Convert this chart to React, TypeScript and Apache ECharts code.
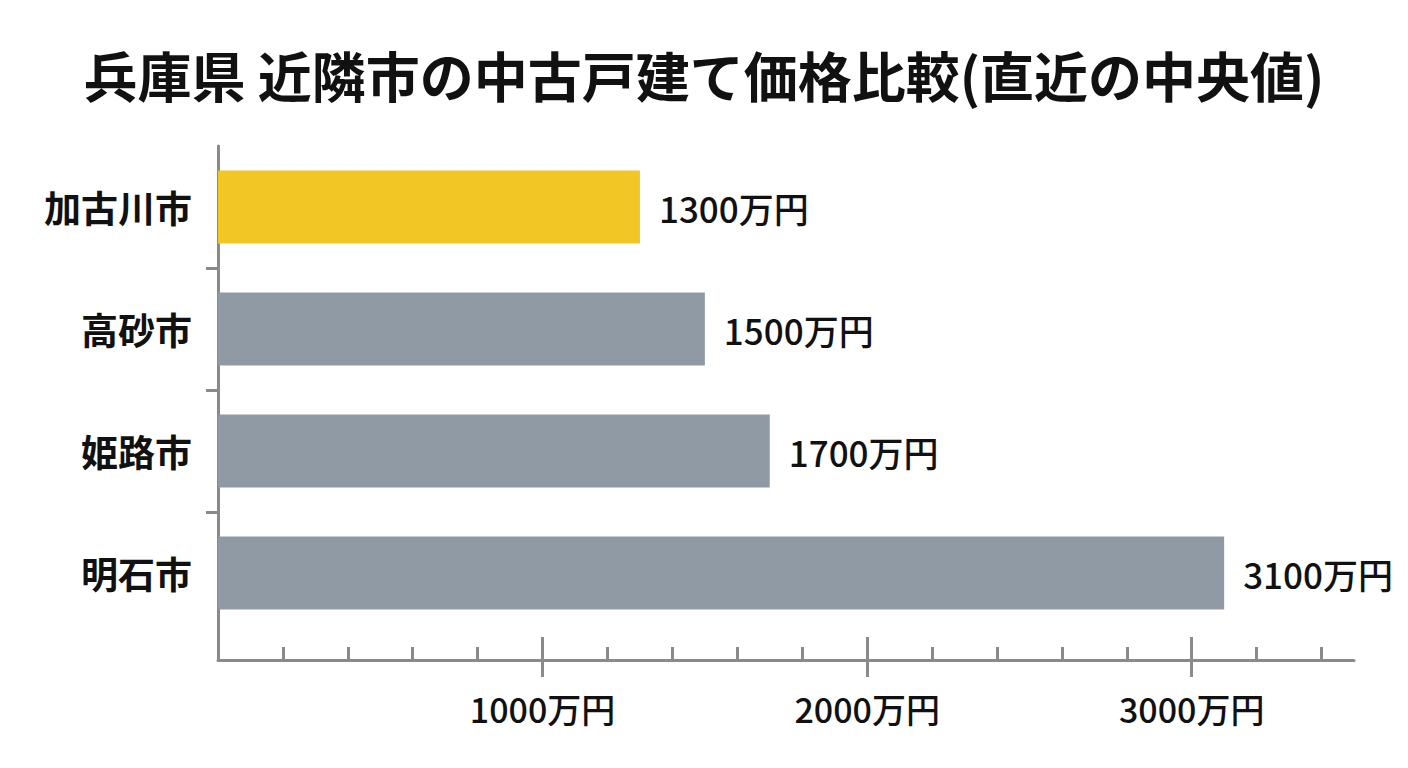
import React, { useEffect, useRef } from 'react';
import * as echarts from 'echarts';

// データ
const title = '兵庫県 近隣市の中古戸建て価格比較(直近の中央値)';
const cities = ['加古川市', '高砂市', '姫路市', '明石市'];
const prices = [1300, 1500, 1700, 3100]; // 万円
const highlightCity = '加古川市';
const majorTicks = [1000, 2000, 3000];
const minorTicks = [200, 400, 600, 800, 1000, 1200, 1400, 1600, 1800, 2000, 2200, 2400, 2600, 2800, 3000, 3200, 3400];
const unit = '万円';

const FONT = '"Noto Sans CJK JP", "Noto Sans", sans-serif';
const AXIS_COLOR = '#8a8a8a';
const YELLOW = '#F2C624';
const GREY = '#8F9AA4';

const App: React.FC = () => {
  const chartRef = useRef<HTMLDivElement | null>(null);

  useEffect(() => {
    if (!chartRef.current) return;
    const chart = echarts.init(chartRef.current, null, { renderer: 'svg' });

    const xMax = 3500;
    // 下の軸は棒の領域より少し下にある
    const barGridHeight = 488;
    const axisGridHeight = 514;
    const yMax = (cities.length * axisGridHeight) / barGridHeight;
    const bandEdges = cities.slice(1).map((_, i) => i + 1);

    const axisLine = { show: true, onZero: false, lineStyle: { color: AXIS_COLOR, width: 3 } };
    const noLine = { show: false, onZero: false };

    const option = {
      animation: false,
      backgroundColor: '#ffffff',
      textStyle: { fontFamily: FONT },
      title: {
        text: title,
        left: 'center',
        top: 42,
        textStyle: { fontFamily: FONT, fontSize: 54, fontWeight: 'bold', color: '#111' },
      },
      grid: [
        { left: 218, right: 54, top: 146, height: barGridHeight },
        { left: 218, right: 54, top: 146, height: axisGridHeight },
      ],
      xAxis: [
        { gridIndex: 0, type: 'value', min: 0, max: xMax, show: false },
        {
          gridIndex: 1,
          type: 'value',
          position: 'bottom',
          min: 0,
          max: xMax,
          axisLine,
          axisTick: { show: true, inside: true, length: 13, customValues: minorTicks, lineStyle: { color: AXIS_COLOR, width: 3 } },
          axisLabel: { show: false },
          splitLine: { show: false },
        },
        {
          gridIndex: 1,
          type: 'value',
          position: 'bottom',
          min: 0,
          max: xMax,
          axisLine: noLine,
          axisTick: { show: true, inside: true, length: 23, customValues: majorTicks, lineStyle: { color: AXIS_COLOR, width: 3 } },
          axisLabel: { show: false },
          splitLine: { show: false },
        },
        {
          gridIndex: 1,
          type: 'value',
          position: 'bottom',
          min: 0,
          max: xMax,
          axisLine: noLine,
          axisTick: { show: true, inside: false, length: 17, customValues: majorTicks, lineStyle: { color: AXIS_COLOR, width: 3 } },
          axisLabel: {
            show: true,
            customValues: majorTicks,
            formatter: (v: number) => `${v}${unit}`,
            margin: 31,
            fontSize: 34,
            fontWeight: 500,
            fontFamily: FONT,
            color: '#111',
          },
          splitLine: { show: false },
        },
      ],
      yAxis: [
        {
          gridIndex: 0,
          type: 'category',
          data: cities,
          inverse: true,
          axisLine: { show: false },
          axisTick: { show: false },
          axisLabel: { margin: 26, fontSize: 37, fontWeight: 'bold', fontFamily: FONT, color: '#111' },
        },
        {
          gridIndex: 1,
          type: 'value',
          position: 'left',
          min: 0,
          max: yMax,
          inverse: true,
          axisLine,
          axisTick: { show: true, inside: false, length: 12, customValues: bandEdges, lineStyle: { color: AXIS_COLOR, width: 3 } },
          axisLabel: { show: false },
          splitLine: { show: false },
        },
      ],
      series: [
        {
          type: 'bar',
          xAxisIndex: 0,
          yAxisIndex: 0,
          barWidth: 73,
          data: prices.map((p, i) => ({
            value: p,
            itemStyle: { color: cities[i] === highlightCity ? YELLOW : GREY },
          })),
          label: {
            show: true,
            position: 'right',
            distance: 19,
            formatter: (p: any) => `${p.value}${unit}`,
            fontSize: 35,
            fontWeight: 500,
            fontFamily: FONT,
            color: '#111',
          },
        },
      ],
    };

    chart.setOption(option);
    return () => {
      chart.dispose();
    };
  }, []);

  return (
    <div
      ref={chartRef}
      style={{ position: 'fixed', left: 0, top: 0, width: '1408px', height: '768px' }}
    />
  );
};

export default App;
